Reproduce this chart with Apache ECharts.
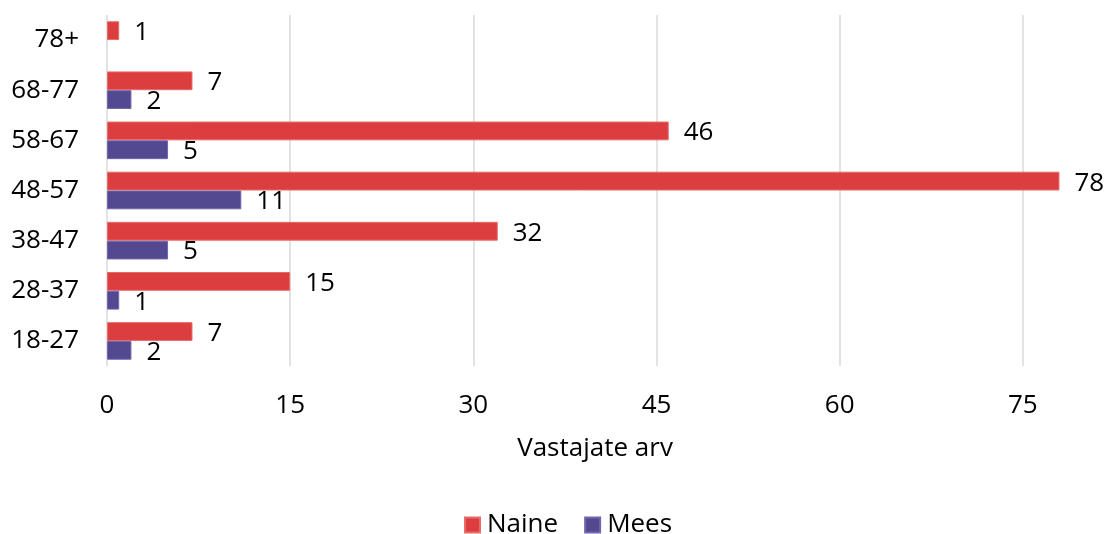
<!DOCTYPE html>
<html>
<head>
<meta charset="utf-8">
<script src="https://cdn.jsdelivr.net/npm/echarts@6/dist/echarts.min.js"></script>
<style>
  html, body { margin: 0; padding: 0; background: #ffffff; }
  #chart { width: 1106px; height: 534px; }
</style>
</head>
<body>
<div id="chart"></div>
<script>
// Age groups, bottom to top
const ageGroups = ['18-27', '28-37', '38-47', '48-57', '58-67', '68-77', '78+'];
// Number of respondents per group
const naine = [7, 15, 32, 78, 46, 7, 1];
const mees = [2, 1, 5, 11, 5, 2, null];
const xTicks = [0, 15, 30, 45, 60, 75];

const FONT = '"Open Sans", sans-serif';
const FS = 26;
const RED = '#DC3D3E';
const PURPLE = '#534990';

const chart = echarts.init(document.getElementById('chart'), null, { renderer: 'canvas' });

const labelStyle = {
  show: true,
  position: 'right',
  distance: 15,
  offset: [0, 2],
  color: '#000',
  fontFamily: FONT,
  fontSize: FS
};

chart.setOption({
  animation: false,
  textStyle: { fontFamily: FONT },
  grid: {
    left: 107,
    top: 15,
    right: -100,
    bottom: 168,
    containLabel: false,
    outerBoundsMode: 'none'
  },
  legend: {
    data: ['Naine', 'Mees'],
    top: 507,
    left: 459,
    itemWidth: 15,
    itemHeight: 15,
    itemGap: 26,
    icon: 'rect',
    textStyle: { fontFamily: FONT, fontSize: FS, color: '#000', padding: [0, 0, 0, 2] }
  },
  xAxis: {
    type: 'value',
    min: 0,
    max: 90,
    interval: 15,
    axisLine: { show: false },
    axisTick: { show: false },
    axisLabel: {
      margin: 27,
      color: '#000',
      fontFamily: FONT,
      fontSize: FS,
      formatter: v => (xTicks.includes(v) ? String(v) : '')
    },
    splitLine: { show: true, lineStyle: { color: '#d9d9d9', width: 1.5 } }
  },
  yAxis: {
    type: 'category',
    data: ageGroups,
    axisLine: { show: false },
    axisTick: { show: false },
    axisLabel: { margin: 28, color: '#000', fontFamily: FONT, fontSize: FS }
  },
  graphic: [{
    type: 'text',
    x: 595,
    y: 449,
    style: {
      text: 'Vastajate arv',
      fill: '#000',
      font: FS + 'px ' + FONT,
      textAlign: 'center',
      textVerticalAlign: 'middle'
    }
  }],
  series: [
    {
      name: 'Naine',
      type: 'bar',
      data: naine,
      barGap: '0%',
      barCategoryGap: '25%',
      itemStyle: { color: RED, borderColor: '#E86A6A', borderWidth: 1 },
      label: labelStyle
    },
    {
      name: 'Mees',
      type: 'bar',
      data: mees,
      barGap: '0%',
      barCategoryGap: '25%',
      itemStyle: { color: PURPLE, borderColor: '#7167AA', borderWidth: 1 },
      label: labelStyle
    }
  ]
});
</script>
</body>
</html>
